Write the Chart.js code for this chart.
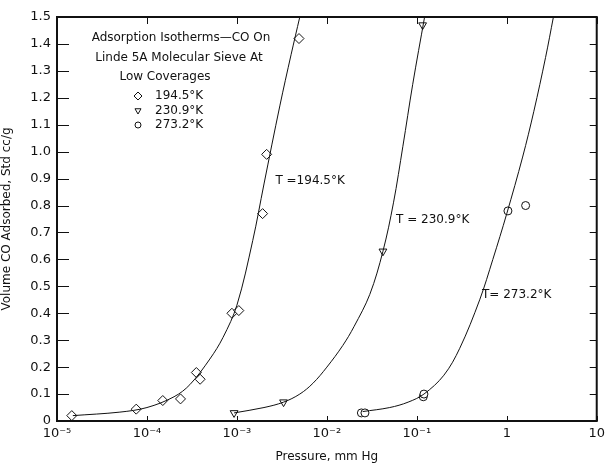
<!DOCTYPE html>
<html>
<head>
<meta charset="utf-8">
<script src="https://cdn.jsdelivr.net/npm/chart.js@4.4.1/dist/chart.umd.min.js"></script>
<style>
  html, body { margin: 0; padding: 0; background: #fff; }
  #box { width: 610px; height: 464px; }
</style>
</head>
<body>
<div id="box"><canvas id="grafico"></canvas></div>
<script>
// measured points, 194.5 K (diamonds)
var pressao194 = [1.46e-5, 7.6e-5, 1.5e-4, 2.36e-4, 3.54e-4, 3.9e-4, 8.8e-4, 1.05e-3, 1.93e-3, 2.14e-3, 4.9e-3];
var volume194 = [0.02, 0.044, 0.076, 0.082, 0.18, 0.155, 0.40, 0.41, 0.77, 0.99, 1.42];
// 230.9 K (triangles)
var pressao231 = [9.3e-4, 3.3e-3, 4.2e-2, 0.116];
var volume231 = [0.03, 0.07, 0.63, 1.47];
// 273.2 K (circles)
var pressao273 = [0.0242, 0.0265, 0.118, 0.12, 1.03, 1.62];
var volume273 = [0.03, 0.03, 0.09, 0.10, 0.78, 0.80];

// hand drawn curves
var curvaP194 = [1.5e-5, 5e-5, 1e-4, 2e-4, 3e-4, 5e-4, 7e-4, 1e-3, 1.5e-3, 2e-3, 3e-3, 4e-3, 5e-3];
var curvaV194 = [0.02, 0.033, 0.05, 0.09, 0.135, 0.23, 0.31, 0.43, 0.67, 0.88, 1.17, 1.36, 1.5];
var curvaP231 = [9.3e-4, 2e-3, 3.3e-3, 5e-3, 7e-3, 1e-2, 1.5e-2, 2e-2, 3e-2, 4.2e-2, 5.5e-2, 7e-2, 9e-2, 0.122];
var curvaV231 = [0.03, 0.05, 0.07, 0.1, 0.14, 0.2, 0.28, 0.35, 0.47, 0.63, 0.81, 1.02, 1.25, 1.5];
var curvaP273 = [0.025, 0.05, 0.08, 0.12, 0.2, 0.3, 0.5, 0.7, 1.0, 1.5, 2.0, 2.7, 3.3];
var curvaV273 = [0.035, 0.05, 0.07, 0.1, 0.17, 0.27, 0.45, 0.6, 0.77, 0.98, 1.15, 1.35, 1.5];

var xTicks = [1e-5, 1e-4, 1e-3, 1e-2, 1e-1, 1, 10];
var xTickLabels = ['10⁻⁵', '10⁻⁴', '10⁻³', '10⁻²', '10⁻¹', '1', '10'];

var legendaTitulo = ['Adsorption Isotherms—CO On', 'Linde 5A Molecular Sieve At', 'Low Coverages'];
var legendaNomes = ['194.5°K', '230.9°K', '273.2°K'];
var rotulosCurva = ['T =194.5°K', 'T = 230.9°K', 'T= 273.2°K'];
var rotulosX = [2.68e-3, 0.0588, 0.53];
var rotulosY = [0.89, 0.745, 0.467];

var fonte = '"DejaVu Sans", sans-serif';

function pares(xs, ys) {
    return xs.map(function (x, i) { return { x: x, y: ys[i] }; });
}

function curva(xs, ys) {
    return {
        data: pares(xs, ys),
        showLine: true,
        borderColor: '#111',
        borderWidth: 1,
        pointRadius: 0,
        tension: 0.35,
        fill: false
    };
}

function pontos(xs, ys, estilo, rot, raio) {
    return {
        data: pares(xs, ys),
        showLine: false,
        pointStyle: estilo,
        rotation: rot,
        pointRadius: raio,
        pointBorderColor: '#111',
        pointBackgroundColor: '#fff',
        pointBorderWidth: 1
    };
}

var marcadores = [['rectRot', 0, 5], ['triangle', 180, 4.5], ['circle', 0, 4]];

// inward ticks on all four sides, plus frame and text
var desenhoExtra = {
    id: 'desenhoExtra',
    afterDatasetsDraw: function (chart) {
        var ctx = chart.ctx, a = chart.chartArea;
        var sx = chart.scales.x, sy = chart.scales.y;
        ctx.save();
        ctx.strokeStyle = '#111';
        ctx.lineWidth = 1;
        ctx.beginPath();
        xTicks.forEach(function (v) {
            var px = Math.round(sx.getPixelForValue(v)) + 0.5;
            ctx.moveTo(px, a.bottom); ctx.lineTo(px, a.bottom - 5);
            ctx.moveTo(px, a.top); ctx.lineTo(px, a.top + 7);
        });
        sy.ticks.forEach(function (t) {
            var py = Math.round(sy.getPixelForValue(t.value)) + 0.5;
            ctx.moveTo(a.left, py); ctx.lineTo(a.left + 12, py);
            ctx.moveTo(a.right, py); ctx.lineTo(a.right - 7, py);
        });
        ctx.stroke();

        ctx.lineWidth = 2;
        ctx.strokeRect(a.left, a.top, a.right - a.left, a.bottom - a.top);

        ctx.fillStyle = '#111';
        ctx.font = '12px ' + fonte;
        ctx.textAlign = 'center';
        ctx.textBaseline = 'middle';
        ctx.fillText(legendaTitulo[0], 181, 38);
        ctx.fillText(legendaTitulo[1], 179, 58);
        ctx.fillText(legendaTitulo[2], 165, 77);
        ctx.textAlign = 'left';
        ctx.lineWidth = 1;
        legendaNomes.forEach(function (nome, i) {
            var y = 96 + i * 14.5;
            var m = marcadores[i];
            ctx.fillStyle = '#fff';
            ctx.strokeStyle = '#111';
            Chart.helpers.drawPoint(ctx, { pointStyle: m[0], rotation: m[1], radius: m[2] - 1, borderWidth: 1 }, 138, y);
            ctx.fillStyle = '#111';
            ctx.fillText(nome, 155, y);
        });

        rotulosCurva.forEach(function (txt, i) {
            ctx.fillText(txt, sx.getPixelForValue(rotulosX[i]), sy.getPixelForValue(rotulosY[i]));
        });
        ctx.restore();
    }
};

var ctx = document.getElementById('grafico').getContext('2d');
ctx.canvas.style.width = '610px';
ctx.canvas.style.height = '464px';
var grafico = new Chart(ctx, {
    type: 'scatter',
    data: {
        datasets: [
            curva(curvaP194, curvaV194),
            curva(curvaP231, curvaV231),
            curva(curvaP273, curvaV273),
            pontos(pressao194, volume194, marcadores[0][0], marcadores[0][1], marcadores[0][2]),
            pontos(pressao231, volume231, marcadores[1][0], marcadores[1][1], marcadores[1][2]),
            pontos(pressao273, volume273, marcadores[2][0], marcadores[2][1], marcadores[2][2])
        ]
    },
    options: {
        responsive: false,
        animation: false,
        layout: { padding: { top: 17, right: 7, left: 0, bottom: 0 } },
        plugins: {
            legend: { display: false },
            tooltip: { enabled: false },
            title: { display: false }
        },
        scales: {
            x: {
                type: 'logarithmic',
                min: 1e-5,
                max: 10,
                afterFit: function (s) { s.height = 43; },
                afterBuildTicks: function (s) {
                    s.ticks = xTicks.map(function (v) { return { value: v }; });
                },
                grid: { display: false, drawTicks: false },
                border: { display: false },
                ticks: {
                    autoSkip: false,
                    maxRotation: 0,
                    padding: 5,
                    color: '#111',
                    font: { family: fonte, size: 13 },
                    callback: function (v) {
                        var i = xTicks.indexOf(v);
                        return i >= 0 ? xTickLabels[i] : '';
                    }
                },
                title: {
                    display: true,
                    text: 'Pressure, mm Hg',
                    color: '#111',
                    padding: { top: 0, bottom: 0 },
                    font: { family: fonte, size: 12 }
                }
            },
            y: {
                min: 0,
                max: 1.5,
                afterFit: function (s) { s.width = 57; },
                grid: { display: false, drawTicks: false },
                border: { display: false },
                ticks: {
                    stepSize: 0.1,
                    padding: 6,
                    color: '#111',
                    font: { family: fonte, size: 13 },
                    callback: function (v) { return Math.abs(v) < 1e-9 ? '0' : v.toFixed(1); }
                },
                title: {
                    display: true,
                    text: 'Volume CO Adsorbed, Std cc/g',
                    color: '#111',
                    padding: { top: 0, bottom: 2 },
                    font: { family: fonte, size: 12 }
                }
            }
        }
    },
    plugins: [desenhoExtra]
});
</script>
</body>
</html>
